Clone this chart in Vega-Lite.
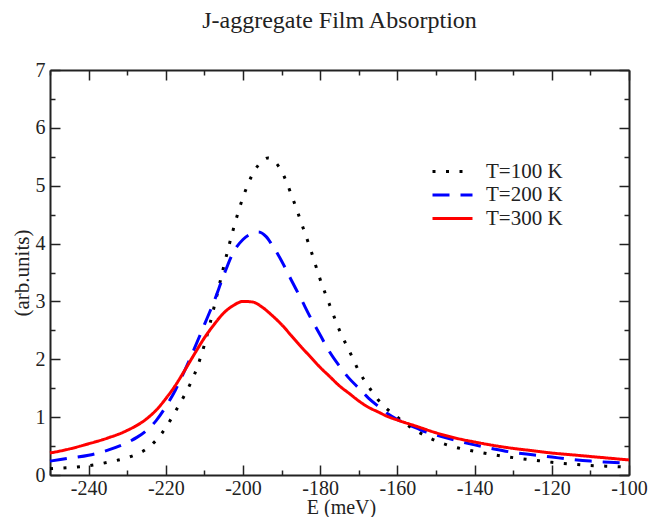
{
  "$schema": "https://vega.github.io/schema/vega-lite/v6.json",
  "autosize": "none",
  "width": 579,
  "height": 405,
  "padding": {"left": 50, "top": 70, "right": 20, "bottom": 42},
  "background": "white",
  "title": {"text": "J-aggregate Film Absorption", "font": "Liberation Serif", "fontSize": 24, "fontWeight": "normal", "color": "#222", "anchor": "middle", "baseline": "alphabetic", "offset": 8},
  "config": {"view": {"stroke": null}},
  "data": {"values": [
    {"E": -250, "A": 0.11, "T": "T=100 K"}, {"E": -245, "A": 0.13, "T": "T=100 K"}, {"E": -240, "A": 0.16, "T": "T=100 K"}, {"E": -235, "A": 0.22, "T": "T=100 K"}, {"E": -230, "A": 0.30, "T": "T=100 K"}, {"E": -227.5, "A": 0.36, "T": "T=100 K"}, {"E": -225, "A": 0.45, "T": "T=100 K"}, {"E": -222.5, "A": 0.6, "T": "T=100 K"}, {"E": -220, "A": 0.82, "T": "T=100 K"}, {"E": -217.5, "A": 1.1, "T": "T=100 K"}, {"E": -215, "A": 1.4, "T": "T=100 K"}, {"E": -212.5, "A": 1.75, "T": "T=100 K"}, {"E": -210, "A": 2.25, "T": "T=100 K"}, {"E": -207.5, "A": 2.9, "T": "T=100 K"}, {"E": -205, "A": 3.6, "T": "T=100 K"}, {"E": -202.5, "A": 4.25, "T": "T=100 K"}, {"E": -200, "A": 4.8, "T": "T=100 K"}, {"E": -197.5, "A": 5.2, "T": "T=100 K"}, {"E": -195, "A": 5.43, "T": "T=100 K"}, {"E": -193.5, "A": 5.48, "T": "T=100 K"}, {"E": -192, "A": 5.43, "T": "T=100 K"}, {"E": -190, "A": 5.25, "T": "T=100 K"}, {"E": -187.5, "A": 4.85, "T": "T=100 K"}, {"E": -185, "A": 4.38, "T": "T=100 K"}, {"E": -182.5, "A": 3.9, "T": "T=100 K"}, {"E": -180, "A": 3.38, "T": "T=100 K"}, {"E": -177.5, "A": 2.93, "T": "T=100 K"}, {"E": -175, "A": 2.5, "T": "T=100 K"}, {"E": -172.5, "A": 2.15, "T": "T=100 K"}, {"E": -170, "A": 1.8, "T": "T=100 K"}, {"E": -167.5, "A": 1.53, "T": "T=100 K"}, {"E": -165, "A": 1.3, "T": "T=100 K"}, {"E": -162.5, "A": 1.13, "T": "T=100 K"}, {"E": -160, "A": 1.0, "T": "T=100 K"}, {"E": -157.5, "A": 0.87, "T": "T=100 K"}, {"E": -155, "A": 0.76, "T": "T=100 K"}, {"E": -152.5, "A": 0.67, "T": "T=100 K"}, {"E": -150, "A": 0.59, "T": "T=100 K"}, {"E": -145, "A": 0.48, "T": "T=100 K"}, {"E": -140, "A": 0.41, "T": "T=100 K"}, {"E": -135, "A": 0.35, "T": "T=100 K"}, {"E": -130, "A": 0.30, "T": "T=100 K"}, {"E": -125, "A": 0.26, "T": "T=100 K"}, {"E": -120, "A": 0.22, "T": "T=100 K"}, {"E": -115, "A": 0.19, "T": "T=100 K"}, {"E": -110, "A": 0.165, "T": "T=100 K"}, {"E": -105, "A": 0.15, "T": "T=100 K"}, {"E": -100, "A": 0.135, "T": "T=100 K"},
    {"E": -250, "A": 0.24, "T": "T=200 K"}, {"E": -245, "A": 0.29, "T": "T=200 K"}, {"E": -240, "A": 0.34, "T": "T=200 K"}, {"E": -235, "A": 0.43, "T": "T=200 K"}, {"E": -230, "A": 0.56, "T": "T=200 K"}, {"E": -227.5, "A": 0.65, "T": "T=200 K"}, {"E": -225, "A": 0.77, "T": "T=200 K"}, {"E": -222.5, "A": 0.94, "T": "T=200 K"}, {"E": -220, "A": 1.18, "T": "T=200 K"}, {"E": -217.5, "A": 1.47, "T": "T=200 K"}, {"E": -215, "A": 1.82, "T": "T=200 K"}, {"E": -212.5, "A": 2.2, "T": "T=200 K"}, {"E": -210, "A": 2.6, "T": "T=200 K"}, {"E": -207.5, "A": 3.0, "T": "T=200 K"}, {"E": -205, "A": 3.45, "T": "T=200 K"}, {"E": -202.5, "A": 3.85, "T": "T=200 K"}, {"E": -200, "A": 4.07, "T": "T=200 K"}, {"E": -197.5, "A": 4.18, "T": "T=200 K"}, {"E": -196, "A": 4.2, "T": "T=200 K"}, {"E": -194, "A": 4.12, "T": "T=200 K"}, {"E": -192.5, "A": 3.98, "T": "T=200 K"}, {"E": -190, "A": 3.7, "T": "T=200 K"}, {"E": -187.5, "A": 3.37, "T": "T=200 K"}, {"E": -185, "A": 3.05, "T": "T=200 K"}, {"E": -182.5, "A": 2.72, "T": "T=200 K"}, {"E": -180, "A": 2.42, "T": "T=200 K"}, {"E": -177.5, "A": 2.12, "T": "T=200 K"}, {"E": -175, "A": 1.88, "T": "T=200 K"}, {"E": -172.5, "A": 1.67, "T": "T=200 K"}, {"E": -170, "A": 1.5, "T": "T=200 K"}, {"E": -167.5, "A": 1.33, "T": "T=200 K"}, {"E": -165, "A": 1.19, "T": "T=200 K"}, {"E": -162.5, "A": 1.06, "T": "T=200 K"}, {"E": -160, "A": 0.96, "T": "T=200 K"}, {"E": -157.5, "A": 0.88, "T": "T=200 K"}, {"E": -155, "A": 0.81, "T": "T=200 K"}, {"E": -152.5, "A": 0.74, "T": "T=200 K"}, {"E": -150, "A": 0.69, "T": "T=200 K"}, {"E": -145, "A": 0.6, "T": "T=200 K"}, {"E": -140, "A": 0.52, "T": "T=200 K"}, {"E": -135, "A": 0.45, "T": "T=200 K"}, {"E": -130, "A": 0.39, "T": "T=200 K"}, {"E": -125, "A": 0.35, "T": "T=200 K"}, {"E": -120, "A": 0.31, "T": "T=200 K"}, {"E": -115, "A": 0.27, "T": "T=200 K"}, {"E": -110, "A": 0.24, "T": "T=200 K"}, {"E": -105, "A": 0.22, "T": "T=200 K"}, {"E": -100, "A": 0.2, "T": "T=200 K"},
    {"E": -250, "A": 0.38, "T": "T=300 K"}, {"E": -245, "A": 0.45, "T": "T=300 K"}, {"E": -240, "A": 0.54, "T": "T=300 K"}, {"E": -235, "A": 0.64, "T": "T=300 K"}, {"E": -230, "A": 0.77, "T": "T=300 K"}, {"E": -225, "A": 0.97, "T": "T=300 K"}, {"E": -222.5, "A": 1.12, "T": "T=300 K"}, {"E": -220, "A": 1.32, "T": "T=300 K"}, {"E": -217.5, "A": 1.55, "T": "T=300 K"}, {"E": -215, "A": 1.82, "T": "T=300 K"}, {"E": -212.5, "A": 2.1, "T": "T=300 K"}, {"E": -210, "A": 2.37, "T": "T=300 K"}, {"E": -207.5, "A": 2.6, "T": "T=300 K"}, {"E": -205, "A": 2.8, "T": "T=300 K"}, {"E": -202.5, "A": 2.93, "T": "T=300 K"}, {"E": -200, "A": 3.0, "T": "T=300 K"}, {"E": -197.5, "A": 2.99, "T": "T=300 K"}, {"E": -195, "A": 2.9, "T": "T=300 K"}, {"E": -192.5, "A": 2.76, "T": "T=300 K"}, {"E": -190, "A": 2.6, "T": "T=300 K"}, {"E": -187.5, "A": 2.41, "T": "T=300 K"}, {"E": -185, "A": 2.22, "T": "T=300 K"}, {"E": -182.5, "A": 2.04, "T": "T=300 K"}, {"E": -180, "A": 1.86, "T": "T=300 K"}, {"E": -177.5, "A": 1.7, "T": "T=300 K"}, {"E": -175, "A": 1.54, "T": "T=300 K"}, {"E": -172.5, "A": 1.41, "T": "T=300 K"}, {"E": -170, "A": 1.28, "T": "T=300 K"}, {"E": -167.5, "A": 1.17, "T": "T=300 K"}, {"E": -165, "A": 1.09, "T": "T=300 K"}, {"E": -162.5, "A": 1.01, "T": "T=300 K"}, {"E": -160, "A": 0.95, "T": "T=300 K"}, {"E": -155, "A": 0.84, "T": "T=300 K"}, {"E": -150, "A": 0.73, "T": "T=300 K"}, {"E": -145, "A": 0.64, "T": "T=300 K"}, {"E": -140, "A": 0.57, "T": "T=300 K"}, {"E": -135, "A": 0.51, "T": "T=300 K"}, {"E": -130, "A": 0.46, "T": "T=300 K"}, {"E": -125, "A": 0.42, "T": "T=300 K"}, {"E": -120, "A": 0.38, "T": "T=300 K"}, {"E": -115, "A": 0.35, "T": "T=300 K"}, {"E": -110, "A": 0.32, "T": "T=300 K"}, {"E": -105, "A": 0.29, "T": "T=300 K"}, {"E": -100, "A": 0.26, "T": "T=300 K"}
  ]},
  "layer": [
    {
      "mark": {"type": "line", "strokeWidth": 3, "strokeCap": "butt", "interpolate": "monotone"},
      "encoding": {
        "x": {"field": "E", "type": "quantitative", "scale": {"domain": [-250, -100], "nice": false, "zero": false},
          "axis": {"orient": "bottom", "title": "E (meV)", "values": [-250, -240, -230, -220, -210, -200, -190, -180, -170, -160, -150, -140, -130, -120, -110, -100],
            "labelExpr": "datum.value % 20 === 0 ? '' + datum.value : ''", "labelFont": "Liberation Serif", "labelFontSize": 20, "labelColor": "#222", "labelPadding": 13, "labelFlush": false,
            "tickSize": {"condition": {"test": "datum.value % 20 === 0", "value": -10}, "value": -5}, "tickColor": "#222", "tickWidth": 1.5,
            "domainColor": "#222", "domainWidth": 2, "grid": false,
            "titleFont": "Liberation Serif", "titleFontSize": 20, "titleFontWeight": "normal", "titleColor": "#222", "titleBaseline": "alphabetic", "titleX": 291, "titleY": 38}},
        "y": {"field": "A", "type": "quantitative", "scale": {"domain": [0, 7], "nice": false},
          "axis": {"orient": "left", "title": "(arb.units)", "values": [0, 0.5, 1, 1.5, 2, 2.5, 3, 3.5, 4, 4.5, 5, 5.5, 6, 6.5, 7],
            "labelExpr": "datum.value % 1 === 0 ? '' + datum.value : ''", "labelFont": "Liberation Serif", "labelFontSize": 20, "labelColor": "#222", "labelPadding": 15, "labelFlush": false,
            "tickSize": {"condition": {"test": "datum.value % 1 === 0", "value": -10}, "value": -5}, "tickColor": "#222", "tickWidth": 1.5,
            "domainColor": "#222", "domainWidth": 2, "grid": false,
            "titleFont": "Liberation Serif", "titleFontSize": 21, "titleFontWeight": "normal", "titleColor": "#222", "titleBaseline": "middle", "titleX": -28, "titleY": 202.5}},
        "color": {"field": "T", "type": "nominal", "scale": {"domain": ["T=100 K", "T=200 K", "T=300 K"], "range": ["#000000", "#0000ff", "#ff0000"]},
          "legend": {"title": null, "orient": "none", "legendX": 381, "legendY": 93, "symbolType": "stroke", "symbolSize": 1600, "symbolStrokeWidth": 3, "clipHeight": 17, "labelFont": "Liberation Serif", "labelFontSize": 21, "labelColor": "#222", "labelOffset": 12, "rowPadding": 1.5}},
        "strokeDash": {"field": "T", "type": "nominal", "scale": {"domain": ["T=100 K", "T=200 K", "T=300 K"], "range": [[3, 10.5], [17, 11], [1, 0]]},
          "legend": {"title": null, "orient": "none", "legendX": 381, "legendY": 93, "symbolType": "stroke", "symbolSize": 1600, "symbolStrokeWidth": 3, "clipHeight": 17, "labelFont": "Liberation Serif", "labelFontSize": 21, "labelColor": "#222", "labelOffset": 12, "rowPadding": 1.5}}
      }
    },
    {
      "mark": {"type": "line", "strokeOpacity": 0},
      "encoding": {
        "x": {"field": "E", "type": "quantitative",
          "axis": {"orient": "top", "title": null, "labels": false, "values": [-250, -240, -230, -220, -210, -200, -190, -180, -170, -160, -150, -140, -130, -120, -110, -100],
            "tickSize": {"condition": {"test": "datum.value % 20 === 0", "value": -10}, "value": -5}, "tickColor": "#222", "tickWidth": 1.5,
            "domainColor": "#222", "domainWidth": 2, "grid": false}},
        "y": {"field": "A", "type": "quantitative",
          "axis": {"orient": "right", "title": null, "labels": false, "values": [0, 0.5, 1, 1.5, 2, 2.5, 3, 3.5, 4, 4.5, 5, 5.5, 6, 6.5, 7],
            "tickSize": {"condition": {"test": "datum.value % 1 === 0", "value": -10}, "value": -5}, "tickColor": "#222", "tickWidth": 1.5,
            "domainColor": "#222", "domainWidth": 2, "grid": false}},
        "detail": {"field": "T", "type": "nominal"}
      }
    }
  ],
  "resolve": {"axis": {"x": "independent", "y": "independent"}}
}
